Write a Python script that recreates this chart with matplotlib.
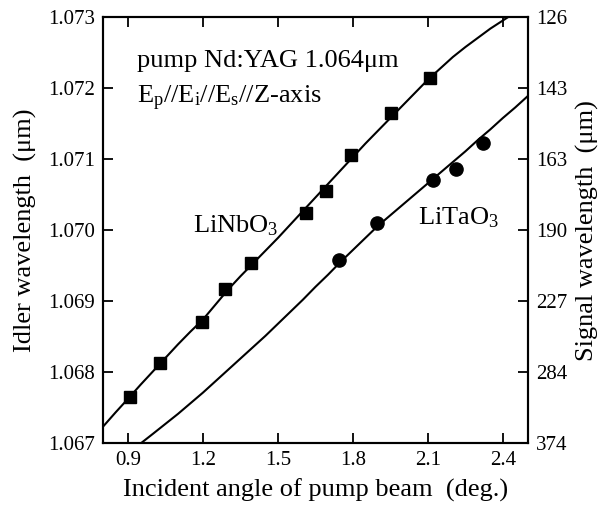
import matplotlib
matplotlib.use("Agg")
import matplotlib.pyplot as plt

plt.rcParams['font.family'] = ['Liberation Serif', 'DejaVu Serif']
plt.rcParams['mathtext.fontset'] = 'custom'
plt.rcParams['mathtext.rm'] = 'Liberation Serif'
plt.rcParams['mathtext.it'] = 'Liberation Serif:italic'

# Measured points
nb_angle = [0.907, 1.030, 1.195, 1.288, 1.392, 1.611, 1.691, 1.794, 1.954, 2.107]
nb_idler = [1.06765, 1.06813, 1.06871, 1.06917, 1.06953, 1.07024, 1.07055, 1.07106, 1.07165, 1.07215]
ta_angle = [1.744, 1.896, 2.120, 2.211, 2.320]
ta_idler = [1.06958, 1.07010, 1.07071, 1.07086, 1.07123]

# Calculated curves
nb_curve_x = [0.80, 0.85, 0.907, 0.95, 1.00, 1.05, 1.10, 1.15, 1.20, 1.25, 1.30, 1.35,
              1.40, 1.45, 1.50, 1.55, 1.60, 1.65, 1.70, 1.75, 1.80, 1.85, 1.90, 1.95,
              2.00, 2.05, 2.10, 2.15, 2.20, 2.25, 2.30, 2.35, 2.42]
nb_curve_y = [1.06723, 1.06743, 1.06765, 1.06782, 1.06801, 1.06820, 1.06839, 1.06857,
              1.06874, 1.06895, 1.06916, 1.06935, 1.06953, 1.06971, 1.06989, 1.07008,
              1.07027, 1.07046, 1.07065, 1.07084, 1.07103, 1.07122, 1.07140, 1.07158,
              1.07176, 1.07194, 1.07212, 1.07228, 1.07244, 1.07258, 1.07271, 1.07284,
              1.07300]
ta_curve_x = [0.953, 1.00, 1.05, 1.10, 1.15, 1.20, 1.25, 1.30, 1.35, 1.40, 1.45, 1.50,
              1.55, 1.60, 1.65, 1.70, 1.75, 1.80, 1.85, 1.90, 1.95, 2.00, 2.05, 2.10,
              2.15, 2.20, 2.25, 2.30, 2.35, 2.40, 2.45, 2.50]
ta_curve_y = [1.06700, 1.06713, 1.06727, 1.06741, 1.06756, 1.06771, 1.06787, 1.06803,
              1.06819, 1.06835, 1.06851, 1.06868, 1.06885, 1.06902, 1.06920, 1.06937,
              1.06955, 1.06972, 1.06989, 1.07006, 1.07021, 1.07036, 1.07051, 1.07066,
              1.07081, 1.07096, 1.07111, 1.07127, 1.07142, 1.07158, 1.07173, 1.07189]

idler_ticks = [1.067, 1.068, 1.069, 1.070, 1.071, 1.072, 1.073]
signal_labels = ['374', '284', '227', '190', '163', '143', '126']
x_ticks = [0.9, 1.2, 1.5, 1.8, 2.1, 2.4]

fig = plt.figure(figsize=(6.06, 5.08), dpi=100)
ax = fig.add_axes([0.170, 0.128, 0.701, 0.838])

ax.plot(nb_curve_x, nb_curve_y, color='black', lw=1.5)
ax.plot(ta_curve_x, ta_curve_y, color='black', lw=1.5)
ax.plot(nb_angle, nb_idler, 's', color='black', ms=8.5, ls='none')
ax.plot(ta_angle, ta_idler, 'o', color='black', ms=9.5, ls='none')

ax.set_xlim(0.8, 2.5)
ax.set_ylim(1.067, 1.073)
ax.set_xticks(x_ticks)
ax.set_xticklabels([f'{v:.1f}' for v in x_ticks])
ax.set_yticks(idler_ticks)
ax.set_yticklabels([f'{v:.3f}' for v in idler_ticks])
ax.tick_params(direction='in', length=7, width=1.3, labelsize=15, top=True, right=False, pad=6)

ax.set_xlabel('Incident angle of pump beam  (deg.)', fontsize=19, labelpad=6)
ax.set_ylabel('Idler wavelength  (\u03bcm)', fontsize=19, labelpad=8)

ax2 = ax.twinx()
ax2.set_ylim(1.067, 1.073)
ax2.set_yticks(idler_ticks)
ax2.set_yticklabels(signal_labels)
ax2.tick_params(direction='in', length=7, width=1.3, labelsize=15, pad=6)
ax2.set_ylabel('Signal wavelength  (\u03bcm)', fontsize=19, labelpad=6)

for a in (ax, ax2):
    for s in a.spines.values():
        s.set_linewidth(1.5)

ax.text(0.935, 1.07238, 'pump Nd:YAG 1.064\u03bcm', fontsize=19, va='center', ha='left')
ax.text(0.935, 1.07186, r'$\mathrm{E_p//E_i//E_s//Z}$-axis', fontsize=19, va='center', ha='left')
ax.text(1.16, 1.07006, r'LiNbO$_3$', fontsize=19, va='center', ha='left')
ax.text(2.06, 1.07017, r'LiTaO$_3$', fontsize=19, va='center', ha='left')

fig.savefig('out.png', dpi=100)
